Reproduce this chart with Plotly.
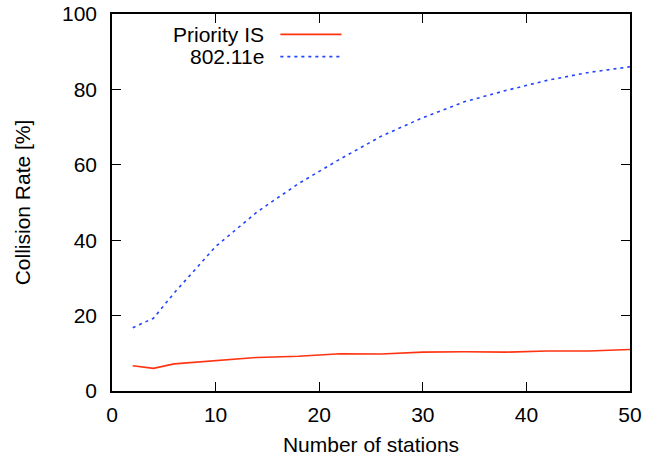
import plotly.graph_objects as go

stations = [2, 4, 6, 10, 14, 18, 22, 26, 30, 34, 38, 42, 46, 50]
priority_is = [6.7, 6.0, 7.2, 8.0, 8.9, 9.2, 9.9, 9.8, 10.3, 10.4, 10.3, 10.6, 10.6, 11.0]
ieee_80211e = [16.8, 19.3, 26.0, 38.3, 47.5, 55.0, 61.5, 67.6, 72.5, 76.7, 79.7, 82.4, 84.5, 86.0]
series_names = ["Priority IS", "802.11e"]
x_ticks = [0, 10, 20, 30, 40, 50]
y_ticks = [0, 20, 40, 60, 80, 100]

RED = "#ff3311"
BLUE = "#2244ff"
FONT = "Liberation Sans, Arial, Helvetica, sans-serif"

fig = go.Figure()
fig.add_trace(go.Scatter(x=stations, y=priority_is, mode="lines", name=series_names[0],
                         line=dict(color=RED, width=1.6), showlegend=False))
fig.add_trace(go.Scatter(x=stations, y=ieee_80211e, mode="lines", name=series_names[1],
                         line=dict(color=BLUE, width=1.6, dash="3px,4px"), showlegend=False))

# gnuplot-style legend: text right-aligned, sample line to the right
legend_y = [0.946, 0.887]
for name, color, dash, ly in zip(series_names, [RED, BLUE], ["solid", "3px,4px"], legend_y):
    fig.add_annotation(x=0.298, y=ly, xref="paper", yref="paper", text=name,
                       showarrow=False, xanchor="right", yanchor="middle",
                       font=dict(family=FONT, size=21, color="black"))
    fig.add_shape(type="line", xref="paper", yref="paper", x0=0.325, x1=0.443, y0=ly, y1=ly,
                  line=dict(color=color, width=1.6, dash=dash))

axis_common = dict(
    showline=True, linecolor="black", linewidth=1.6, mirror="allticks",
    ticks="inside", ticklen=9, tickwidth=1.3, tickcolor="black",
    showgrid=False, zeroline=False, automargin=False,
    tickfont=dict(family=FONT, size=21, color="black"),
)

fig.update_xaxes(range=[0, 50], tickvals=x_ticks, ticktext=[str(v) for v in x_ticks],
                 title=dict(text="Number of stations", font=dict(family=FONT, size=21, color="black"), standoff=12),
                 ticklabelstandoff=4, **axis_common)
fig.update_yaxes(range=[0, 100], tickvals=y_ticks, ticktext=[str(v) for v in y_ticks],
                 title=dict(text="Collision Rate [%]", font=dict(family=FONT, size=21, color="black"), standoff=26),
                 ticklabelstandoff=9, **axis_common)

fig.update_layout(
    width=648, height=457,
    margin=dict(l=112, r=18, t=14, b=66),
    paper_bgcolor="white", plot_bgcolor="white",
    font=dict(family=FONT, size=21, color="black"),
)

fig.write_html("out.html", config={"displayModeBar": False},
               post_script="document.body.style.margin='0';document.body.style.overflow='hidden';")
